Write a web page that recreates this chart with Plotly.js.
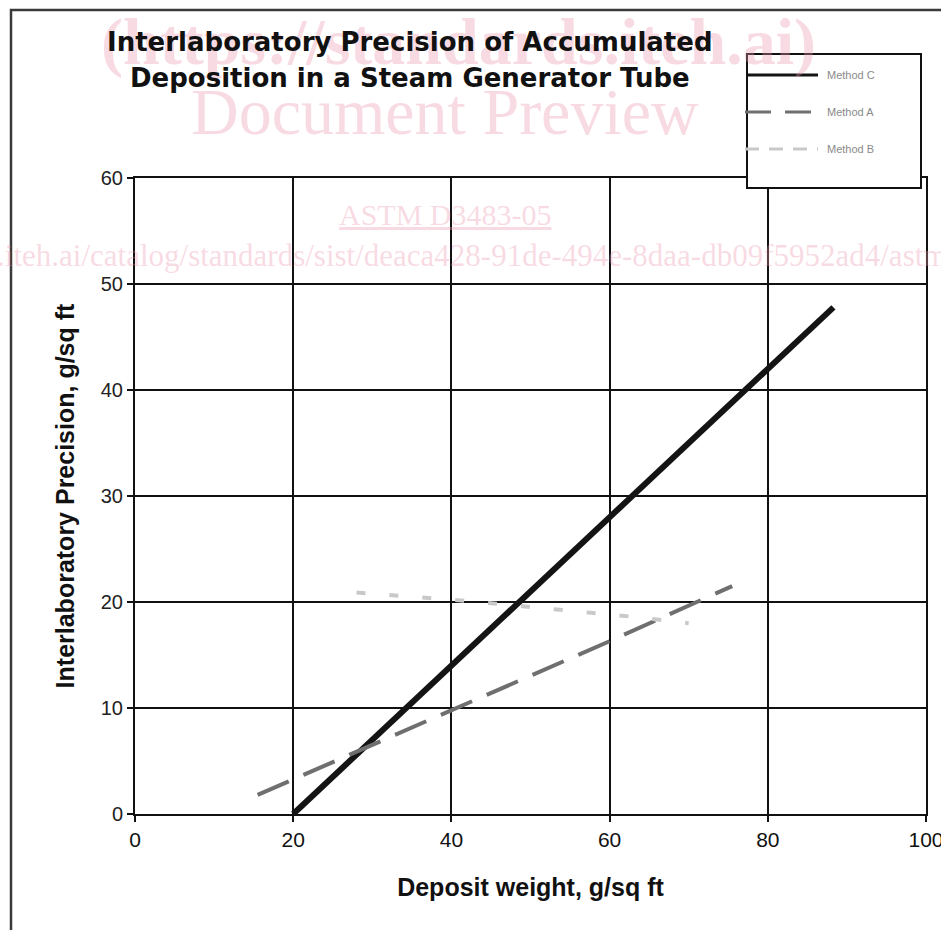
<!DOCTYPE html>
<html>
<head>
<meta charset="utf-8">
<script src="https://cdn.plot.ly/plotly-3.0.1.min.js"></script>
<style>html,body{margin:0;padding:0;background:#fff;}#chart{width:941px;height:930px;}</style>
</head>
<body>
<div id="chart"></div>
<script>
// ---- data ----
const methodCx = [20, 40, 60, 80, 88.3];
const methodCy = [0, 14, 28, 42, 47.8];
const methodAx = [15.5, 40, 60, 75.5];
const methodAy = [1.8, 9.8, 16.3, 21.5];
const methodBx = [28, 35, 42, 49, 56, 63, 70];
const methodBy = [20.9, 20.5, 20.1, 19.6, 19.1, 18.6, 18.0];
const seriesNames = ["Method C", "Method A", "Method B"];
const xTicks = [0, 20, 40, 60, 80, 100];
const yTicks = [0, 10, 20, 30, 40, 50, 60];

// ---- geometry helpers (pixel -> paper) ----
const W = 941, H = 930, ML = 135, MR = 15, MT = 178, MB = 116;
const PW = W - ML - MR, PH = H - MT - MB;
const px = x => (x - ML) / PW;
const py = y => (H - MB - y) / PH;

const colC = '#141414', colA = '#6f6f6f', colB = '#c9c9c9';

const traces = [
  {x: methodCx, y: methodCy, name: seriesNames[0], mode: 'lines', line: {color: colC, width: 6}},
  {x: methodAx, y: methodAy, name: seriesNames[1], mode: 'lines', line: {color: colA, width: 4, dash: '34px,16px'}},
  {x: methodBx, y: methodBy, name: seriesNames[2], mode: 'lines', line: {color: colB, width: 4, dash: '9px,24px'}}
];

const shapes = [
  // outer frame
  {type: 'rect', xref: 'paper', yref: 'paper', x0: px(11), x1: px(960), y0: py(950), y1: py(10),
   line: {color: '#3a3a3a', width: 2.5}, fillcolor: 'rgba(0,0,0,0)', layer: 'below'},
  // legend box
  {type: 'rect', xref: 'paper', yref: 'paper', x0: px(747), x1: px(921), y0: py(188), y1: py(54),
   line: {color: '#111', width: 2}, fillcolor: '#fff', layer: 'above'},
  // legend samples
  {type: 'line', xref: 'paper', yref: 'paper', x0: px(748), x1: px(818), y0: py(75), y1: py(75),
   line: {color: colC, width: 3}},
  {type: 'line', xref: 'paper', yref: 'paper', x0: px(745), x1: px(818), y0: py(112), y1: py(112),
   line: {color: colA, width: 3, dash: '26px,14px'}},
  {type: 'line', xref: 'paper', yref: 'paper', x0: px(745), x1: px(818), y0: py(149), y1: py(149),
   line: {color: colB, width: 3, dash: '14px,10px'}}
];

const wm = 'rgba(236,150,175,0.35)';
const ann = (x, y, text, font, extra) => Object.assign({xref: 'paper', yref: 'paper', x: px(x), y: py(y),
  text: text, showarrow: false, xanchor: 'center', yanchor: 'middle', font: font}, extra || {});
const annotations = [
  // watermark
  ann(458, 42, '<b>(https://standards.iteh.ai)</b>', {family: 'Liberation Serif', size: 66, color: wm}),
  ann(445, 112, 'Document Preview', {family: 'Liberation Serif', size: 66, color: wm}),
  ann(445, 214, '<u>ASTM D3483-05</u>', {family: 'Liberation Serif', size: 30, color: wm}),
  ann(-17, 255, 's.iteh.ai/catalog/standards/sist/deaca428-91de-494e-8daa-db09f5952ad4/astm-d3483-05',
      {family: 'Liberation Serif', size: 31, color: wm}, {xanchor: 'left'}),
  // title
  ann(410, 42, '<b>Interlaboratory Precision of Accumulated</b>', {family: 'DejaVu Sans', size: 26, color: '#111'}),
  ann(410, 78, '<b>Deposition in a Steam Generator Tube</b>', {family: 'DejaVu Sans', size: 26, color: '#111'}),
  // legend texts
  ann(825, 75, seriesNames[0], {family: 'Liberation Sans', size: 11, color: '#8a8a8a'}, {xanchor: 'left'}),
  ann(825, 112, seriesNames[1], {family: 'Liberation Sans', size: 11, color: '#8a8a8a'}, {xanchor: 'left'}),
  ann(825, 149, seriesNames[2], {family: 'Liberation Sans', size: 11, color: '#8a8a8a'}, {xanchor: 'left'})
];

const layout = {
  width: W, height: H,
  margin: {l: ML, r: MR, t: MT, b: MB, pad: 0},
  paper_bgcolor: '#fff', plot_bgcolor: '#fff',
  showlegend: false,
  xaxis: {
    range: [0, 100], tickvals: xTicks, ticktext: xTicks.map(String),
    showgrid: true, gridcolor: '#111', gridwidth: 2,
    zeroline: false, showline: true, linecolor: '#111', linewidth: 2, mirror: true,
    ticks: 'outside', ticklen: 6, tickcolor: '#111', tickwidth: 2,
    ticklabeloverflow: 'allow',
    tickfont: {family: 'Liberation Sans', size: 21, color: '#111'},
    title: {text: '<b>Deposit weight, g/sq ft</b>', standoff: 28,
            font: {family: 'Liberation Sans', size: 25, color: '#111'}}
  },
  yaxis: {
    range: [0, 60], tickvals: yTicks, ticktext: yTicks.map(String),
    showgrid: true, gridcolor: '#111', gridwidth: 2,
    zeroline: false, showline: true, linecolor: '#111', linewidth: 2, mirror: true,
    ticks: 'outside', ticklen: 6, tickcolor: '#111', tickwidth: 2,
    tickfont: {family: 'Liberation Sans', size: 20, color: '#222'},
    title: {text: '<b>Interlaboratory Precision, g/sq ft</b>', standoff: 19,
            font: {family: 'Liberation Sans', size: 25, color: '#111'}}
  },
  shapes: shapes,
  annotations: annotations
};

Plotly.newPlot('chart', traces, layout, {displayModeBar: false, staticPlot: true});
</script>
</body>
</html>
